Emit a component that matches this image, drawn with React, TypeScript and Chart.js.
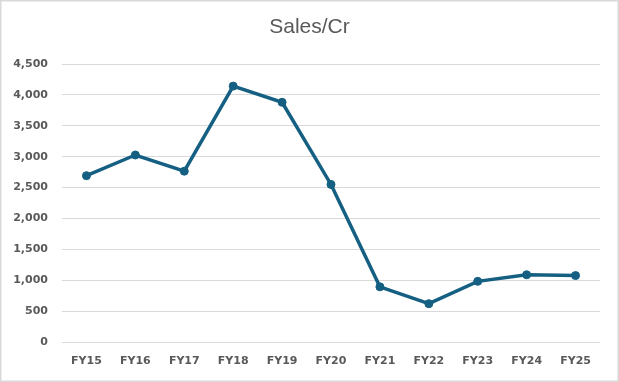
import React, { useEffect, useRef } from "react";
import { Chart, registerables } from "chart.js";

Chart.register(...registerables);

const categories = ["FY15", "FY16", "FY17", "FY18", "FY19", "FY20", "FY21", "FY22", "FY23", "FY24", "FY25"];
const sales = [2692, 3027, 2765, 4142, 3880, 2550, 893, 620, 982, 1088, 1075];
const yMin = 0;
const yMax = 4500;
const yStep = 500;
const titleText = "Sales/Cr";

const framePlugin = {
  id: "frameAndTitle",
  beforeDraw(chart: any) {
    const { ctx, width, height } = chart;
    ctx.save();
    ctx.fillStyle = "#ffffff";
    ctx.fillRect(0, 0, width, height);
    ctx.strokeStyle = "#d9d9d9";
    ctx.lineWidth = 1.5;
    ctx.strokeRect(0.75, 0.75, width - 1.5, height - 1.5);
    ctx.fillStyle = "#595959";
    ctx.font = "21px 'Liberation Sans', Arial, sans-serif";
    ctx.textAlign = "center";
    ctx.textBaseline = "middle";
    ctx.fillText(titleText, width / 2, 27.5);
    ctx.restore();
  },
};

const tickFont = { family: "'DejaVu Sans', sans-serif", size: 11, weight: "bold" as any };

export default function App() {
  const ref = useRef<HTMLCanvasElement | null>(null);
  useEffect(() => {
    if (!ref.current) return;
    const chart = new Chart(ref.current, {
      type: "line",
      data: {
        labels: categories,
        datasets: [
          {
            label: titleText,
            data: sales,
            borderColor: "#156082",
            backgroundColor: "#156082",
            borderWidth: 3.5,
            pointRadius: 4,
            pointBorderWidth: 1,
            pointBackgroundColor: "#156082",
            pointBorderColor: "#156082",
            tension: 0,
          },
        ],
      },
      plugins: [framePlugin],
      options: {
        animation: false,
        responsive: false,
        maintainAspectRatio: false,
        layout: { padding: { left: 0, right: 19, top: 64, bottom: 0 } },
        plugins: {
          legend: { display: false },
          tooltip: { enabled: false },
          title: { display: false },
        },
        scales: {
          x: {
            type: "category",
            offset: true,
            grid: { display: false, drawTicks: false },
            border: { display: false },
            ticks: {
              color: "#595959",
              padding: 13,
              maxRotation: 0,
              font: tickFont,
            },
            afterFit(scale: any) {
              scale.height = 40;
            },
          },
          y: {
            min: yMin,
            max: yMax,
            grid: { color: "#d9d9d9", lineWidth: 1, drawTicks: false },
            border: { display: false },
            ticks: {
              stepSize: yStep,
              color: "#595959",
              padding: 14,
              font: tickFont,
              callback: (v: any) => Number(v).toLocaleString("en-US"),
            },
            afterFit(scale: any) {
              scale.width = 62;
            },
          },
        },
      },
    });
    return () => chart.destroy();
  }, []);
  return (
    <div style={{ position: "absolute", left: 0, top: 0, width: 619, height: 382 }}>
      <canvas ref={ref} width={619} height={382} style={{ width: 619, height: 382, display: "block" }} />
    </div>
  );
}
